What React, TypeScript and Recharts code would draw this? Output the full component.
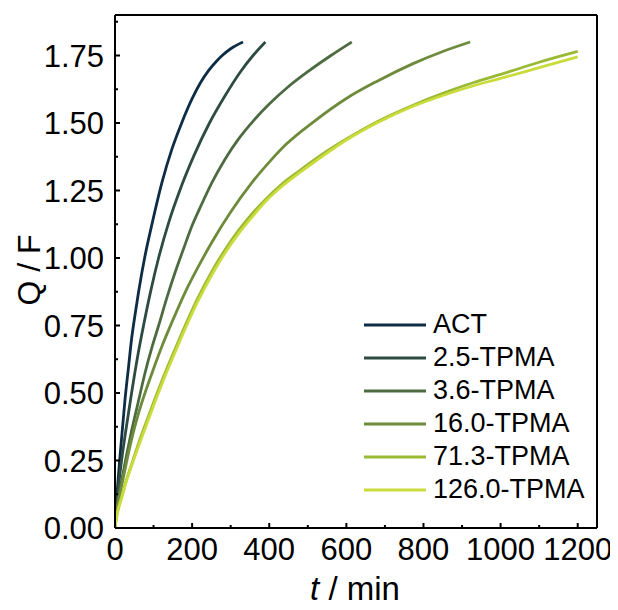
import React from "react";
import { LineChart, Line, XAxis, YAxis, ReferenceLine, Legend } from "recharts";

// ---- data (t in min, Q/F) ----
const seriesNames = ["ACT", "2.5-TPMA", "3.6-TPMA", "16.0-TPMA", "71.3-TPMA", "126.0-TPMA"];
const seriesColors = ["#0e2d45", "#2e4b42", "#4d6b40", "#6d8b3b", "#9ab934", "#c9dc3b"];

const tACT = [0, 3, 7, 13, 20, 26, 35, 43, 52, 61, 78, 95, 122, 148, 174, 200, 222, 243, 262, 278, 300, 332];
const qACT = [0, 0.08, 0.16, 0.266, 0.38, 0.476, 0.595, 0.7, 0.79, 0.873, 1.009, 1.12, 1.281, 1.405, 1.504, 1.59, 1.65, 1.695, 1.727, 1.75, 1.775, 1.8];

const t25 = [0, 3, 8, 17, 28, 43, 58, 74, 93, 113, 140, 169, 205, 245, 285, 325, 358, 390];
const q25 = [0, 0.065, 0.14, 0.25, 0.36, 0.5, 0.63, 0.75, 0.88, 1.0, 1.135, 1.254, 1.38, 1.5, 1.6, 1.689, 1.75, 1.8];

const t36 = [0, 3, 8, 17, 30, 43, 60, 78, 95, 113, 135, 156, 178, 200, 225, 252, 285, 321, 360, 400, 450, 500, 560, 614];
const q36 = [0, 0.05, 0.105, 0.175, 0.27, 0.36, 0.465, 0.575, 0.665, 0.749, 0.855, 0.947, 1.035, 1.12, 1.2, 1.281, 1.365, 1.442, 1.51, 1.57, 1.635, 1.69, 1.75, 1.8];

const t160 = [0, 3, 8, 17, 30, 43, 60, 78, 100, 122, 150, 182, 215, 252, 300, 356, 400, 443, 520, 599, 680, 773, 850, 921];
const q160 = [0, 0.045, 0.09, 0.155, 0.245, 0.328, 0.42, 0.501, 0.59, 0.674, 0.77, 0.873, 0.965, 1.06, 1.17, 1.281, 1.355, 1.42, 1.51, 1.59, 1.655, 1.72, 1.765, 1.8];

const t713 = [0, 3, 8, 17, 30, 43, 65, 87, 108, 130, 155, 182, 215, 252, 285, 321, 355, 391, 430, 477, 535, 599, 680, 773, 850, 930, 1000, 1100, 1200];
const q713 = [0, 0.035, 0.07, 0.115, 0.18, 0.235, 0.33, 0.415, 0.495, 0.575, 0.66, 0.75, 0.852, 0.952, 1.03, 1.103, 1.163, 1.218, 1.27, 1.322, 1.382, 1.44, 1.505, 1.566, 1.61, 1.65, 1.68, 1.725, 1.765];

const t1260 = [0, 3, 8, 17, 30, 43, 65, 87, 108, 130, 155, 182, 215, 252, 285, 321, 355, 391, 430, 477, 535, 599, 680, 773, 850, 930, 1000, 1100, 1200];
const q1260 = [0, 0.03, 0.065, 0.11, 0.175, 0.23, 0.318, 0.403, 0.483, 0.563, 0.648, 0.738, 0.84, 0.94, 1.018, 1.091, 1.151, 1.21, 1.262, 1.314, 1.374, 1.436, 1.501, 1.562, 1.602, 1.638, 1.665, 1.705, 1.745];

const xTicks = [0, 100, 200, 300, 400, 500, 600, 700, 800, 900, 1000, 1100, 1200];
const yTicks = [0, 0.125, 0.25, 0.375, 0.5, 0.625, 0.75, 0.875, 1.0, 1.125, 1.25, 1.375, 1.5, 1.625, 1.75, 1.875];

const build = (ts: number[], qs: number[]) => ts.map((t, i) => ({ t, v: qs[i] }));
const seriesData = [
  build(tACT, qACT),
  build(t25, q25),
  build(t36, q36),
  build(t160, q160),
  build(t713, q713),
  build(t1260, q1260),
];

const FONT = "'Liberation Sans', Arial, Helvetica, sans-serif";

const YTick = (props: any) => {
  const { x, y, payload } = props;
  const major = Math.round(payload.value * 1000) % 250 === 0;
  return (
    <g>
      <line x1={x} y1={y} x2={x + (major ? 5 : 3)} y2={y} stroke="#000" strokeWidth={2} />
      {major && (
        <text x={x - 11} y={y + 11} textAnchor="end" fontSize={31} fontFamily={FONT} fill="#000">
          {payload.value.toFixed(2)}
        </text>
      )}
    </g>
  );
};

const XTick = (props: any) => {
  const { x, y, payload } = props;
  const major = payload.value % 200 === 0;
  return (
    <g>
      <line x1={x} y1={y} x2={x} y2={y - (major ? 5 : 3)} stroke="#000" strokeWidth={2} />
      {major && (
        <text x={x} y={y + 32} textAnchor="middle" fontSize={31} fontFamily={FONT} fill="#000">
          {payload.value}
        </text>
      )}
    </g>
  );
};

const LegendContent = () => (
  <div style={{ fontFamily: FONT, fontSize: 27, color: "#000" }}>
    {seriesNames.map((n, i) => (
      <div key={n} style={{ display: "flex", alignItems: "center", height: 33 }}>
        <svg width={62} height={4} style={{ marginRight: 7 }}>
          <line x1={0} y1={2} x2={62} y2={2} stroke={seriesColors[i]} strokeWidth={3} />
        </svg>
        <span style={{ lineHeight: "33px" }}>{n}</span>
      </div>
    ))}
  </div>
);

export default function App() {
  return (
    <LineChart
      width={610}
      height={600}
      margin={{ top: 7, right: 21, bottom: 0, left: 0 }}
      style={{ fontFamily: FONT }}
    >
      <XAxis
        dataKey="t"
        type="number"
        domain={[0, 1250]}
        ticks={xTicks}
        interval={0}
        height={80}
        tickSize={0}
        tickMargin={0}
        tickLine={false}
        tick={<XTick />}
        axisLine={{ stroke: "#000", strokeWidth: 2 }}
        allowDataOverflow
      />
      <YAxis
        dataKey="v"
        type="number"
        domain={[0, 1.9]}
        ticks={yTicks}
        interval={0}
        width={107}
        tickSize={0}
        tickMargin={0}
        tickLine={false}
        tick={<YTick />}
        axisLine={{ stroke: "#000", strokeWidth: 2 }}
        allowDataOverflow
      />
      <ReferenceLine y={1.9} stroke="#000" strokeWidth={2} />
      <ReferenceLine x={1250} stroke="#000" strokeWidth={2} />
      {seriesNames.map((n, i) => (
        <Line
          key={n}
          data={seriesData[i]}
          dataKey="v"
          name={n}
          type="monotone"
          stroke={seriesColors[i]}
          strokeWidth={2.8}
          dot={false}
          activeDot={false}
          isAnimationActive={false}
        />
      ))}
      <Legend
        layout="vertical"
        align="center"
        verticalAlign="middle"
        content={<LegendContent />}
        wrapperStyle={{ left: 356, top: 300, width: "auto", height: "auto" }}
      />
      <text x={32} y={262} transform="rotate(-90 32 262)" textAnchor="middle" fontSize={32} fontFamily={FONT} fill="#000">
        Q / F
      </text>
      <text x={347} y={592} textAnchor="middle" fontSize={33} fontFamily={FONT} fill="#000">
        <tspan fontStyle="italic">t</tspan> / min
      </text>
    </LineChart>
  );
}
